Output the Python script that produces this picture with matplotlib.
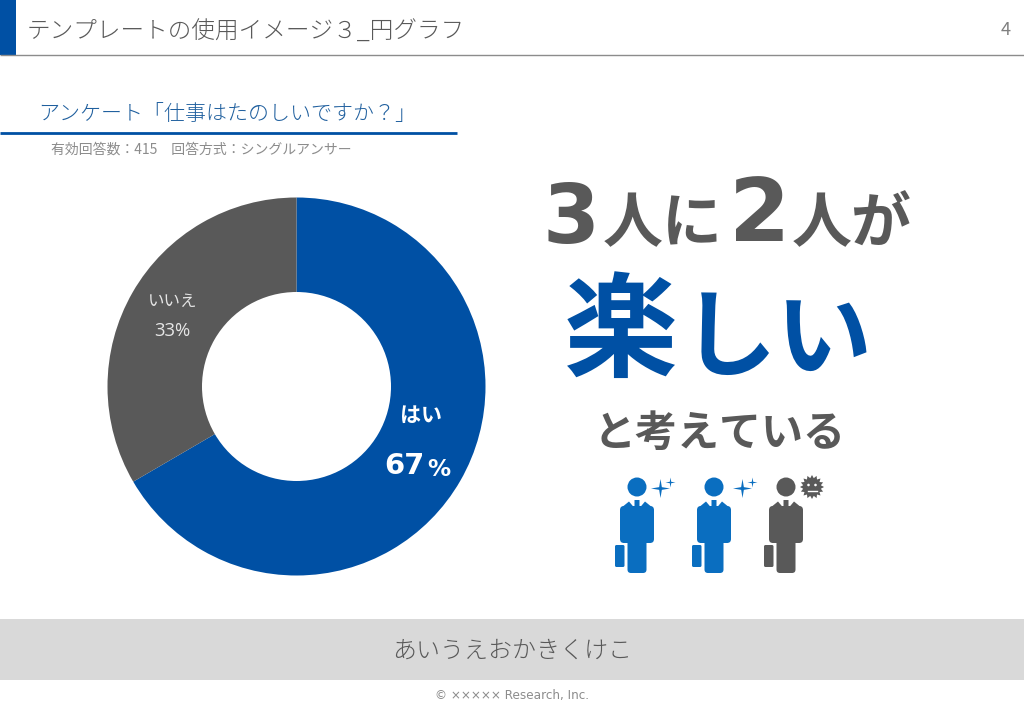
import numpy as np
import matplotlib
matplotlib.use("Agg")
import matplotlib.pyplot as plt
from matplotlib.patches import Rectangle, Circle, FancyBboxPatch, Polygon

plt.rcParams['font.family'] = ['Noto Sans CJK JP', 'DejaVu Sans']

categories = ['はい', 'いいえ']
values = [66.6, 33.4]
value_labels = ['67', '33%']
colors = ['#0050A4', '#595959']
BLUE = '#0050A4'; GREY = '#595959'; ICON = '#0A6EC0'

W, H = 1024, 709
fig = plt.figure(figsize=(W/100, H/100), dpi=100, facecolor='white')

bg = fig.add_axes([0, 0, 1, 1])
bg.set_xlim(0, W); bg.set_ylim(H, 0); bg.axis('off')

def T(x, y, s, px, c, ha='left', w='normal', **k):
    return bg.text(x, y, s, fontsize=px*0.72, color=c, ha=ha, va='center', fontweight=w, **k)

bg.add_patch(Rectangle((0, 0), 16, 55, fc=BLUE, ec='none'))
bg.plot([0, W], [55.3, 55.3], color='#8C8C8C', lw=1, solid_capstyle='butt')
T(27, 32, 'テンプレートの使用イメージ３_円グラフ', 23.6, '#595959', w='light')
T(1011, 30, '4', 18, '#7F7F7F', ha='right')
T(38.5, 114, 'アンケート「仕事はたのしいですか？」', 21, '#1F5F9E', w='light')
bg.plot([0, 457], [132.5, 132.5], color=BLUE, lw=2, solid_capstyle='butt')
T(51, 149.5, '有効回答数：415　回答方式：シングルアンサー', 13.9, '#8C8C8C')

bg.add_patch(Rectangle((0, 619), W, 61, fc='#D9D9D9', ec='none'))
T(512, 651, 'あいうえおかきくけこ', 24, '#595959', ha='center', w='light')
T(512, 696, '© ××××× Research, Inc.', 12, '#8C8C8C', ha='center', family='DejaVu Sans')

# headline
T(543, 221, '3', 82, GREY, w='bold', family='DejaVu Sans')
T(603, 224, '人に', 60, GREY, w='bold')
T(729, 217, '2', 88, GREY, w='bold', family='DejaVu Sans')
T(792, 224, '人が', 60, GREY, w='bold')
T(564, 335, '楽', 114, BLUE, w='bold')
T(681, 341, 'しい', 96, BLUE, w='bold')
T(720, 434, 'と考えている', 42, GREY, ha='center', w='bold')

def person(cx, col):
    bg.add_patch(Circle((cx, 487), 9.5, fc=col, ec='none'))
    bg.add_patch(FancyBboxPatch((cx-17, 506), 34, 37, boxstyle='round,pad=0,rounding_size=4', fc=col, ec='none'))
    bg.add_patch(FancyBboxPatch((cx-9.5, 535), 19, 38, boxstyle='round,pad=0,rounding_size=3.5', fc=col, ec='none'))
    bg.add_patch(FancyBboxPatch((cx-22, 545), 9.5, 22, boxstyle='round,pad=0,rounding_size=1.5', fc=col, ec='none'))
    bg.add_patch(Polygon([(cx-16, 508), (cx-8, 501.5), (cx, 511), (cx+8, 501.5), (cx+16, 508)], fc=col, ec='none'))
    bg.add_patch(Polygon([(cx-2.5, 500), (cx+2.5, 500), (cx+2.5, 507), (cx, 510), (cx-2.5, 507)], fc=col, ec='none'))

def sparkle(cx, cy, r, col):
    a = np.arange(8)*np.pi/4
    rad = np.where(np.arange(8) % 2 == 0, r, r*0.2)
    bg.add_patch(Polygon(np.c_[cx+rad*np.sin(a), cy-rad*np.cos(a)], fc=col, ec='none'))

for cx, sx in [(637, 660.5), (714, 742.5)]:
    person(cx, ICON)
    sparkle(sx, 488.5, 9.5, ICON)
    sparkle(sx+10, 482.5, 5, ICON)
person(786, GREY)
a = np.arange(32)*np.pi/16
rad = np.where(np.arange(32) % 2 == 0, 12, 9)
bg.add_patch(Polygon(np.c_[812+rad*np.sin(a), 487-rad*np.cos(a)], fc=GREY, ec='none'))
for dx in (-3.5, 3.5):
    bg.add_patch(Circle((812+dx, 485), 1.3, fc='white', ec='none'))
bg.plot([807.5, 816.5], [490.5, 490.5], color='white', lw=1)

# donut
R = 189
ax = fig.add_axes([(296.5-R)/W, 1-(386.5+R)/H, 2*R/W, 2*R/H])
ax.pie(values, colors=colors, startangle=90, counterclock=False, radius=1,
       wedgeprops=dict(width=0.5, edgecolor='none'))
ax.set_xlim(-1, 1); ax.set_ylim(-1, 1); ax.set_aspect('equal')

bg.set_zorder(3); bg.patch.set_alpha(0)
T(421, 415, categories[0], 21, 'white', ha='center', w='bold')
T(384.5, 466, value_labels[0], 29, 'white', w='bold', family='DejaVu Sans')
T(427, 469, '%', 23, 'white', w='bold', family='DejaVu Sans')
T(173, 301, categories[1], 16.5, '#E6E6E6', ha='center')
T(172.5, 331, value_labels[1], 18.5, '#E6E6E6', ha='center', family='Open Sans')

fig.savefig('out.png', dpi=100, facecolor='white')
